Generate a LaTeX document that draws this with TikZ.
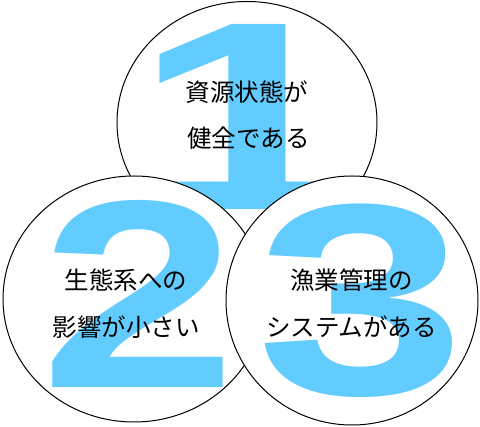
\documentclass[tikz,border=0pt]{standalone}
\usepackage{fontspec}
\usepackage{graphicx}
\usetikzlibrary{shapes.geometric}
\newfontfamily\jpfont{Noto Sans CJK JP}
\newfontfamily\digitfont{Liberation Sans}
\definecolor{digitblue}{RGB}{99,204,255}
\begin{document}
\begin{tikzpicture}[x=1pt,y=-1pt,
  bubble/.style={ellipse, draw=black, line width=1pt, fill=white, inner sep=0pt, outer sep=0pt},
  bignum/.style={inner sep=0pt, outer sep=0pt, text=digitblue, font=\digitfont\bfseries},
  captext/.style={inner sep=0pt, outer sep=0pt, text=black, font=\jpfont\fontsize{24.5}{28}\selectfont}]
\useasboundingbox (0,0) rectangle (480,427);
% top circle
\node[bubble, minimum width=260pt, minimum height=242pt] (c1) at (247,122.5) {};
\node[bignum] (n1) at (247,116.5) {\scalebox{1.55}[1]{\fontsize{269}{269}\selectfont 1}};
\node[captext] (t1a) at (247,92) {資源状態が};
\node[captext] (t1b) at (248.5,138) {健全である};
% bottom-left circle
\node[bubble, minimum width=262pt, minimum height=246pt] (c2) at (134,299) {};
\node[bignum] (n2) at (138.5,293.5) {\scalebox{1.32}[1]{\fontsize{268}{268}\selectfont 2}};
\node[captext] (t2a) at (126,280) {生態系への};
\node[captext] (t2b) at (126,327) {影響が小さい};
% bottom-right circle
\node[bubble, minimum width=252pt, minimum height=249pt] (c3) at (352,300.5) {};
\node[bignum] (n3) at (361,301) {\scalebox{1.38}[1]{\fontsize{273}{273}\selectfont 3}};
\node[captext] (t3a) at (351.5,280) {漁業管理の};
\node[captext] (t3b) at (351.5,327) {システムがある};
\end{tikzpicture}
\end{document}
